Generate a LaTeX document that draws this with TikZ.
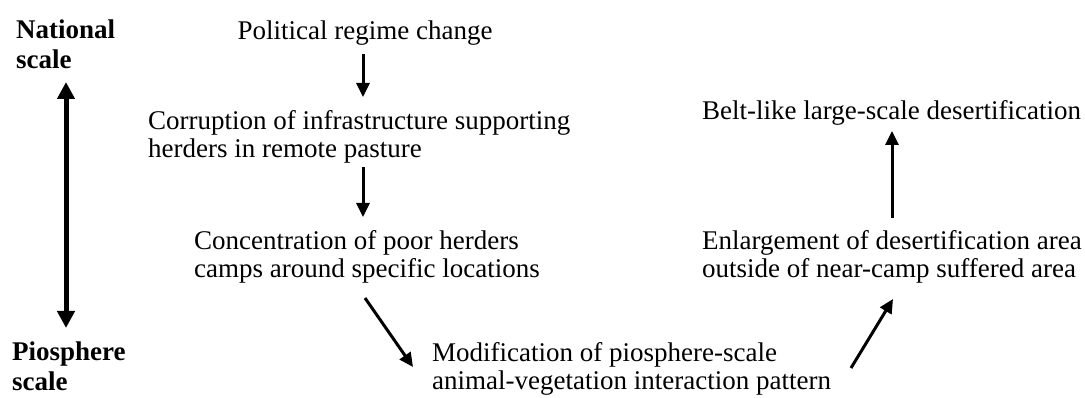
\documentclass[tikz,border=0pt]{standalone}
\usepackage{fontspec}
\setmainfont{Liberation Serif}
\usetikzlibrary{arrows.meta}
\begin{document}
\begin{tikzpicture}[x=1pt,y=-1pt,
  lbl/.style={inner sep=0pt, align=left, font=\fontsize{27}{28}\selectfont},
  scalelbl/.style={lbl, font=\fontsize{27}{30}\selectfont\bfseries},
  flow/.style={line width=3pt, -{Triangle[length=14pt,width=13pt]}},
  big/.style={line width=5pt, {Triangle[length=17pt,width=17pt]}-{Triangle[length=17pt,width=17pt]}}]
\useasboundingbox (0,0) rectangle (1085,398);
% scale labels
\node[scalelbl, anchor=west] (nat) at (16,44) {National\\scale};
\node[scalelbl, anchor=west] (pio) at (12,366) {Piosphere\\scale};
\coordinate (sTop) at (66,82);
\coordinate (sBot) at (66,328);
\draw[big] (sTop) -- (sBot);
% text blocks
\node[lbl] (pol) at (365,33) {Political regime change};
\node[lbl, anchor=west] (cor) at (148,137) {Corruption of infrastructure supporting\\herders in remote pasture};
\node[lbl, anchor=west] (con) at (194,257) {Concentration of poor herders\\camps around specific locations};
\node[lbl, anchor=west] (mod) at (432,369) {Modification of piosphere-scale\\animal-vegetation interaction pattern};
\node[lbl, anchor=west] (enl) at (702,257) {Enlargement of desertification area\\outside of near-camp suffered area};
\node[lbl, anchor=west] (bel) at (702,113) {Belt-like large-scale desertification};
% connector ends
\coordinate (a1s) at (363,54);  \coordinate (a1e) at (363,97);
\coordinate (a2s) at (363,167); \coordinate (a2e) at (363,217);
\coordinate (a3s) at (365,298); \coordinate (a3e) at (413,367);
\coordinate (a4s) at (851,368); \coordinate (a4e) at (893,299);
\coordinate (a5s) at (892,218); \coordinate (a5e) at (892,131);
\draw[flow] (a1s) -- (a1e);
\draw[flow] (a2s) -- (a2e);
\draw[flow] (a3s) -- (a3e);
\draw[flow] (a4s) -- (a4e);
\draw[flow] (a5s) -- (a5e);
\end{tikzpicture}
\end{document}
